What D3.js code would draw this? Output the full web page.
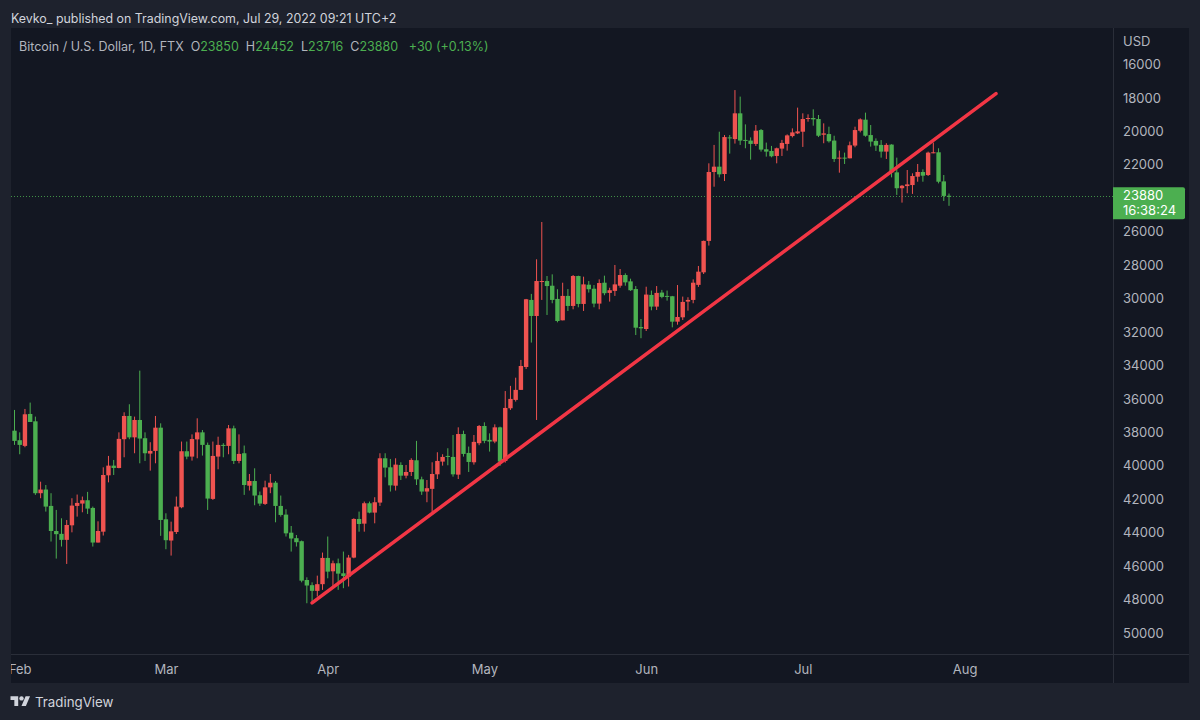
<!DOCTYPE html>
<html lang="en">
<head>
  <meta charset="UTF-8">
  <title>Bitcoin / U.S. Dollar, 1D, FTX</title>
  <style>
    body { margin: 0; padding: 0; background: #1e222d; }
    svg { display: block; font-family: Inter, "Noto Sans", sans-serif; }
    .axis text { fill: #b2b5be; font-size: 13px; font-family: Inter, "Noto Sans", sans-serif; }
    .axis path, .axis line { display: none; }
  </style>
</head>
<body>
  <div id="chart"></div>
  <script src="https://d3js.org/d3.v7.min.js"></script>
  <script>
  var firstDay = "2022-01-31";

  var opens = [
    37900,38470,38810,36900,37340,41640,41420,42400,43900,44070,
    44430,43560,42400,42260,42060,42520,44590,43940,40570,39990,
    40130,38410,37020,38300,37260,38350,39270,39110,37720,43200,
    44470,43960,42480,39130,39450,38420,38000,38750,41980,39450,
    38750,38810,37760,39710,39250,41190,40910,41760,42280,41290,
    41010,42400,42920,44000,44330,44510,46830,47140,47480,47080,
    45510,46310,45830,46430,46630,45490,43180,43460,42240,42800,
    42200,39550,40090,41190,39950,40590,40370,39670,40810,41540,
    41380,40510,39750,39410,39470,40530,38100,39230,39790,38650,
    37620,38450,38550,37700,39710,36560,36060,35460,34090,30080,
    31040,29010,28950,29230,30020,31300,29840,30440,28650,30320,
    29170,29410,30300,29050,29660,29540,29230,28590,28970,29430,
    31700,31820,29780,30480,29640,29840,29860,31380,31120,30180,
    30080,29180,28430,26550,22430,22110,22550,20360,20460,18920,
    20510,20550,20750,19920,21070,21170,21470,21030,20750,20280,
    20120,20020,19260,19200,19260,20200,20160,20550,21610,21570,
    21610,20850,19960,19300,20220,20570,20810,21210,20790,22450,
    23400,23270,23210,22710,22430,22610,21290,21250,22990,23850
  ];
  var highs = [
    38750,39310,38890,37380,41740,41940,42740,44530,45550,44830,
    45870,43980,43040,42780,42880,44830,44590,44170,40990,40550,
    40150,39490,38410,39250,39850,39710,40290,39850,44190,44990,
    45370,44080,42540,39610,39690,39550,39390,42640,42040,40210,
    39490,39310,39890,39850,41740,41480,42360,42400,42340,41640,
    43380,43040,44230,45130,44830,46970,48220,48120,47820,47420,
    46730,47220,47420,47320,47220,45530,43940,43940,42840,43440,
    42400,40690,41540,41480,40850,40750,40610,41150,41740,42180,
    42780,40790,39990,39970,40650,40790,39450,40370,39930,38770,
    38650,39150,38650,40010,39810,36660,36160,35460,34210,32630,
    37260,30080,30980,30280,31420,31300,30740,30640,30520,30740,
    29640,30520,30640,29800,30180,29840,29350,29230,29540,32180,
    32370,31940,30700,30680,29980,30120,31720,31560,31280,30720,
    30280,29300,28530,26830,23310,22750,22970,21330,20730,20810,
    21010,21690,20870,21210,21510,21550,21910,21470,21150,20360,
    20160,20930,19420,19660,20340,20710,20670,21830,22470,21950,
    21610,20950,20060,20320,20910,21170,21570,21650,22750,23800,
    24260,23700,23740,23010,23010,22670,21310,23110,24160,24452
  ];
  var lows = [
    36660,38000,36600,36220,37060,40950,41150,41640,42640,43140,
    43240,41940,41720,41840,41560,42440,43320,40090,39410,39650,
    38000,36800,36320,37060,34310,38000,38590,37020,37460,42840,
    43340,41840,38550,38550,38120,37160,37860,38610,38550,38260,
    38650,37560,37600,38120,38790,40490,40150,41540,40890,40490,
    40910,41780,42600,43600,44140,44470,46670,46970,46570,45190,
    44230,45670,45550,45130,45330,43140,42740,42140,42140,41880,
    39250,39250,39590,39550,39790,39950,39550,38510,40650,40850,
    39790,39190,39310,38950,38160,37700,37900,38850,38160,37560,
    37400,38060,37520,37660,35530,35220,34730,33670,30020,29720,
    27650,25420,28650,28550,29440,29050,29430,28590,28630,28690,
    28950,29190,28850,28630,29350,27990,28230,28490,28810,29250,
    31220,29290,29520,29250,29480,29520,29840,29190,29880,29920,
    28850,28050,26530,21910,20810,20020,20220,20220,17530,17920,
    19580,20360,19620,19860,20670,20870,20970,20510,20180,19820,
    18580,18920,18980,18680,19020,19520,19720,20260,21150,21270,
    20610,19720,19220,18880,19620,20420,20520,20710,20770,21570,
    23210,22310,22510,21950,22270,21210,20670,21010,22610,23716
  ];
  var closes = [
    38510,38750,36920,37380,41640,41420,42440,43900,44090,44430,
    43540,42380,42220,42060,42560,44590,43900,40550,39990,40130,
    38390,37020,38300,37260,38370,39250,39110,37720,43240,44450,
    43920,42440,39130,39450,38400,38000,38750,41960,39410,38750,
    38810,37760,39710,39290,41150,40910,41780,42260,41290,41010,
    42400,42940,44040,44350,44570,46870,47160,47480,47080,45510,
    46330,45830,46450,46590,45490,43180,43480,42240,42800,42180,
    39550,40110,41170,39930,40590,40370,39650,40810,41540,41340,
    40490,39710,39470,39430,40510,38100,39290,39770,38570,37620,
    38510,38550,37700,39750,36540,36000,35460,34030,30040,31040,
    28950,28950,29250,30080,31340,29840,30440,28650,30320,29150,
    29440,30300,29070,29680,29500,29150,28590,29030,29500,31740,
    31780,29760,30480,29660,29900,29880,31380,31100,30200,30080,
    29050,28390,26550,22430,22110,22570,20340,20420,18920,20550,
    20570,20750,19960,21090,21210,21490,21010,20690,20240,20060,
    20000,19260,19200,19280,20260,20120,20590,21650,21570,21610,
    20830,19920,19280,20260,20610,20850,21210,20810,22450,23400,
    23250,23170,22670,22430,22650,21270,21250,23010,23860,23880
  ];

  // 24000 sits under the last price label in the reference, so it is left out
  var priceTicks = [16000,18000,20000,22000,26000,28000,30000,32000,34000,36000,38000,40000,42000,44000,46000,48000,50000];
  var monthTicks = ["2022-02-01","2022-03-01","2022-04-01","2022-05-01","2022-06-01","2022-07-01","2022-08-01"];
  var trendDates = ["2022-03-29","2022-08-07"];
  var trendPrices = [48200,17740];

  var legendParts = [
    ["Bitcoin / U.S. Dollar, 1D, FTX", "#b2b5be"],
    ["  O", "#b2b5be"], ["23850", "#4caf50"],
    ["  H", "#b2b5be"], ["24452", "#4caf50"],
    ["  L", "#b2b5be"], ["23716", "#4caf50"],
    ["  C", "#b2b5be"], ["23880", "#4caf50"],
    ["   +30 (+0.13%)", "#4caf50"]
  ];

  var up = "#4caf50", down = "#ef5350";
  var paneLeft = 11, paneRight = 1113, paneTop = 28, paneBottom = 654, axisBottom = 683, axisRight = 1189;
  var parseDay = d3.utcParse("%Y-%m-%d");

  var days = closes.map(function(c, i) { return d3.utcDay.offset(parseDay(firstDay), i); });

  var x = d3.scaleUtc().domain([days[0], days[days.length - 1]]).range([14.5, 949]);
  var y = d3.scaleLinear().domain([16000, 50000]).range([64.5, 633]);

  var svg = d3.select("#chart").append("svg").attr("width", 1200).attr("height", 720);

  svg.append("rect").attr("width", 1200).attr("height", 720).attr("fill", "#1e222d");
  svg.append("rect").attr("x", paneLeft).attr("y", paneTop)
    .attr("width", axisRight - paneLeft).attr("height", axisBottom - paneTop).attr("fill", "#131722");

  svg.append("clipPath").attr("id", "pane").append("rect")
    .attr("x", paneLeft).attr("y", paneTop).attr("width", paneRight - paneLeft).attr("height", axisBottom - paneTop);

  // pane separators
  svg.append("line").attr("x1", paneLeft).attr("x2", axisRight).attr("y1", paneBottom + 0.5).attr("y2", paneBottom + 0.5).attr("stroke", "#2a2e39");
  svg.append("line").attr("x1", paneRight + 0.5).attr("x2", paneRight + 0.5).attr("y1", paneTop).attr("y2", axisBottom).attr("stroke", "#2a2e39");

  // last price line
  svg.append("line").attr("x1", paneLeft).attr("x2", paneRight)
    .attr("y1", Math.round(y(closes[closes.length - 1])) + 0.5).attr("y2", Math.round(y(closes[closes.length - 1])) + 0.5)
    .attr("stroke", up).attr("stroke-width", 1).attr("stroke-dasharray", "1 2").attr("opacity", 0.8);

  var candles = svg.append("g").attr("clip-path", "url(#pane)").selectAll("g")
    .data(closes).enter().append("g")
    .attr("fill", function(c, i) { return c >= opens[i] ? up : down; })
    .attr("stroke", function(c, i) { return c >= opens[i] ? up : down; });

  candles.append("line")
    .attr("x1", function(c, i) { return x(days[i]); })
    .attr("x2", function(c, i) { return x(days[i]); })
    .attr("y1", function(c, i) { return y(lows[i]); })
    .attr("y2", function(c, i) { return y(highs[i]); })
    .attr("stroke-width", 1);

  candles.append("rect")
    .attr("stroke", "none")
    .attr("x", function(c, i) { return x(days[i]) - 2.2; })
    .attr("width", 4.4)
    .attr("y", function(c, i) { return y(Math.min(c, opens[i])); })
    .attr("height", function(c, i) { return Math.max(1, Math.abs(y(c) - y(opens[i]))); });

  // trend line
  svg.append("line")
    .attr("x1", x(parseDay(trendDates[0]))).attr("y1", y(trendPrices[0]))
    .attr("x2", x(parseDay(trendDates[1]))).attr("y2", y(trendPrices[1]))
    .attr("stroke", "#f23645").attr("stroke-width", 3.5).attr("stroke-linecap", "round");

  // price axis
  var priceAxis = svg.append("g").attr("class", "axis").attr("transform", "translate(" + paneRight + ",0)")
    .call(d3.axisRight(y).tickValues(priceTicks).tickSize(0).tickPadding(10).tickFormat(d3.format("d")));
  priceAxis.selectAll("text").attr("text-anchor", "start");

  svg.append("text").attr("x", 1123).attr("y", 46).attr("fill", "#b2b5be").attr("font-size", 13).text("USD");

  // time axis, the wrapper clips Feb at the pane edge
  svg.append("g").attr("clip-path", "url(#pane)").append("g").attr("class", "axis")
    .attr("transform", "translate(0," + paneBottom + ")")
    .call(d3.axisBottom(x).tickValues(monthTicks.map(parseDay)).tickSize(0).tickPadding(11).tickFormat(d3.utcFormat("%b")));

  // last price label
  var labelY = y(closes[closes.length - 1]);
  svg.append("path")
    .attr("d", "M" + paneRight + "," + (labelY - 9) + "h70a2,2 0 0 1 2,2v28a2,2 0 0 1 -2,2h-70z")
    .attr("fill", up);
  svg.append("text").attr("x", 1123).attr("y", labelY + 4).attr("fill", "#fff").attr("font-size", 13).text(d3.format("d")(closes[closes.length - 1]));
  svg.append("text").attr("x", 1123).attr("y", labelY + 19).attr("fill", "#fff").attr("font-size", 13).text("16:38:24");

  // header and legend
  svg.append("text").attr("x", 11).attr("y", 23).attr("fill", "#d1d4dc").attr("font-size", 12.4)
    .text("Kevko_ published on TradingView.com, Jul 29, 2022 09:21 UTC+2");

  svg.append("text").attr("x", 19).attr("y", 51).attr("font-size", 12.5).attr("xml:space", "preserve")
    .style("white-space", "pre")
    .selectAll("tspan").data(legendParts).enter().append("tspan")
    .attr("fill", function(d) { return d[1]; })
    .text(function(d) { return d[0]; });

  // footer logo
  var logo = svg.append("g").attr("transform", "translate(10.5,694) scale(0.55)").attr("fill", "#d1d4dc");
  logo.append("path").attr("d", "M14 22H7V11H0V4h14v18zM28 22h-8l7.5-18h8L28 22z");
  logo.append("circle").attr("cx", 20).attr("cy", 8).attr("r", 4);
  svg.append("text").attr("x", 35).attr("y", 707).attr("fill", "#d1d4dc").attr("font-size", 13.3).text("TradingView");
  </script>
</body>
</html>
